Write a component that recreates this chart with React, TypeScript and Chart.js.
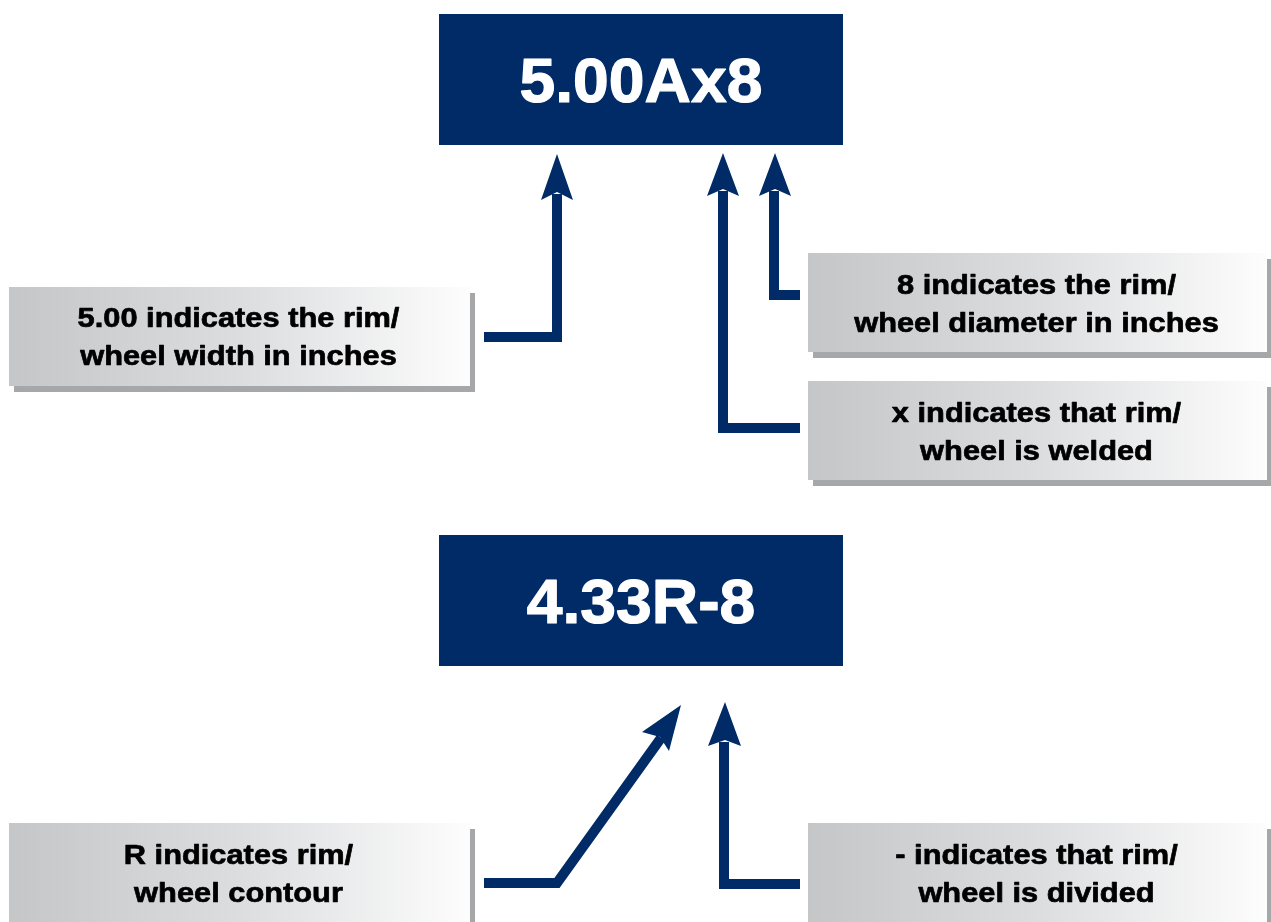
import React, { useEffect, useRef } from "react";
import { Chart, registerables } from "chart.js";

Chart.register(...registerables);

// ---- code boxes (navy) ----
const codeTexts = ["5.00Ax8", "4.33R-8"];
const codeLeft = [439, 439];
const codeTop = [14, 535];
const codeRight = [843, 843];
const codeBottom = [145, 666];
const codeBaseline = [102, 623];

// ---- explanation labels ----
const labelLine1 = [
  "5.00 indicates the rim/",
  "8 indicates the rim/",
  "x indicates that rim/",
  "R indicates rim/",
  "- indicates that rim/",
];
const labelLine2 = [
  "wheel width in inches",
  "wheel diameter in inches",
  "wheel is welded",
  "wheel contour",
  "wheel is divided",
];
const labelLeft = [9, 808, 808, 9, 808];
const labelTop = [287, 253, 381, 823, 823];
const labelRight = [470, 1267, 1267, 470, 1267];
const labelBottom = [386, 352, 480, 935, 935];
const labelBase1 = [327, 294, 422, 864, 864];
const labelBase2 = [365, 332, 460, 902, 902];

// ---- arrow shafts (polyline points) ----
const shaftX = [
  [484, 557, 557],
  [800, 774, 774],
  [800, 723, 723],
  [484, 557, 661],
  [800, 724, 724],
];
const shaftY = [
  [337, 337, 194],
  [295, 295, 191],
  [428, 428, 191],
  [883, 883, 738],
  [884, 884, 742],
];

// ---- arrow heads ----
const headTipX = [557, 775, 723, 681, 725];
const headTipY = [154, 153, 153, 705, 702];
const headLX = [541, 759, 707, 642, 708];
const headLY = [200, 196, 196, 732, 746];
const headRX = [573, 791, 739, 669, 741];
const headRY = [200, 196, 196, 751, 746];
const headNX = [557, 775, 723, 660, 725];
const headNY = [192, 189, 189, 737, 740];

const NAVY = "#002B66";

const diagramPlugin = {
  id: "diagram",
  beforeDatasetsDraw(chart: any) {
    const ctx = chart.ctx;
    const sx = chart.scales.x;
    const sy = chart.scales.y;
    const px = (v: number) => sx.getPixelForValue(v);
    const py = (v: number) => sy.getPixelForValue(v);
    ctx.save();
    for (let i = 0; i < labelLine1.length; i++) {
      const l = px(labelLeft[i]);
      const t = py(labelTop[i]);
      const r = px(labelRight[i]);
      const b = py(labelBottom[i]);
      ctx.fillStyle = "#a6a7a9";
      ctx.fillRect(l + 5, t + 6, r - l, b - t);
      const g = ctx.createLinearGradient(l, 0, r, 0);
      g.addColorStop(0, "#c5c6c8");
      g.addColorStop(0.5, "#dcdddf");
      g.addColorStop(1, "#fdfdfd");
      ctx.fillStyle = g;
      ctx.fillRect(l, t, r - l, b - t);
    }
    for (let i = 0; i < codeTexts.length; i++) {
      const l = px(codeLeft[i]);
      const t = py(codeTop[i]);
      const r = px(codeRight[i]);
      const b = py(codeBottom[i]);
      ctx.fillStyle = NAVY;
      ctx.fillRect(l, t, r - l, b - t);
    }
    ctx.restore();
  },
  afterDatasetsDraw(chart: any) {
    const ctx = chart.ctx;
    const sx = chart.scales.x;
    const sy = chart.scales.y;
    const px = (v: number) => sx.getPixelForValue(v);
    const py = (v: number) => sy.getPixelForValue(v);
    ctx.save();
    ctx.fillStyle = NAVY;
    for (let i = 0; i < headTipX.length; i++) {
      ctx.beginPath();
      ctx.moveTo(px(headTipX[i]), py(headTipY[i]));
      ctx.lineTo(px(headRX[i]), py(headRY[i]));
      ctx.lineTo(px(headNX[i]), py(headNY[i]));
      ctx.lineTo(px(headLX[i]), py(headLY[i]));
      ctx.closePath();
      ctx.fill();
    }
    ctx.textAlign = "center";
    ctx.textBaseline = "alphabetic";
    ctx.lineJoin = "round";
    for (let i = 0; i < codeTexts.length; i++) {
      const cx = (px(codeLeft[i]) + px(codeRight[i])) / 2;
      ctx.save();
      ctx.translate(cx, py(codeBaseline[i]));
      ctx.scale(1.02, 1);
      ctx.font = "bold 63px 'Liberation Sans', Arial, sans-serif";
      ctx.fillStyle = "#ffffff";
      ctx.strokeStyle = "#ffffff";
      ctx.lineWidth = 1.2;
      ctx.fillText(codeTexts[i], 0, 0);
      ctx.strokeText(codeTexts[i], 0, 0);
      ctx.restore();
    }
    for (let i = 0; i < labelLine1.length; i++) {
      const cx = (px(labelLeft[i]) + px(labelRight[i])) / 2 - 1;
      const lines = [labelLine1[i], labelLine2[i]];
      const bases = [labelBase1[i], labelBase2[i]];
      for (let k = 0; k < 2; k++) {
        ctx.save();
        ctx.translate(cx, py(bases[k]));
        ctx.scale(1.1, 1);
        ctx.font = "bold 28px 'Liberation Sans', Arial, sans-serif";
        ctx.fillStyle = "#000000";
        ctx.strokeStyle = "#000000";
        ctx.lineWidth = 0.7;
        ctx.fillText(lines[k], 0, 0);
        ctx.strokeText(lines[k], 0, 0);
        ctx.restore();
      }
    }
    ctx.restore();
  },
};

export default function App() {
  const canvasRef = useRef<HTMLCanvasElement | null>(null);

  useEffect(() => {
    document.body.style.margin = "0";
    const canvas = canvasRef.current;
    if (!canvas) return;
    const datasets = shaftX.map((xs, i) => ({
      label: "arrow" + i,
      data: xs.map((x, k) => ({ x, y: shaftY[i][k] })),
      showLine: true,
      borderColor: NAVY,
      backgroundColor: NAVY,
      borderWidth: 10,
      borderJoinStyle: "miter" as const,
      borderCapStyle: "butt" as const,
      pointRadius: 0,
      tension: 0,
      fill: false,
    }));
    const chart = new Chart(canvas, {
      type: "scatter",
      data: { datasets },
      options: {
        animation: false,
        responsive: true,
        maintainAspectRatio: false,
        layout: { padding: 0 },
        plugins: {
          legend: { display: false },
          tooltip: { enabled: false },
        },
        events: [],
        scales: {
          x: { type: "linear", min: 0, max: 1271, display: false },
          y: { type: "linear", min: 0, max: 922, reverse: true, display: false },
        },
      },
      plugins: [diagramPlugin],
    });
    return () => chart.destroy();
  }, []);

  return (
    <div style={{ width: 1271, height: 922, position: "relative", background: "#ffffff" }}>
      <canvas ref={canvasRef} />
    </div>
  );
}
